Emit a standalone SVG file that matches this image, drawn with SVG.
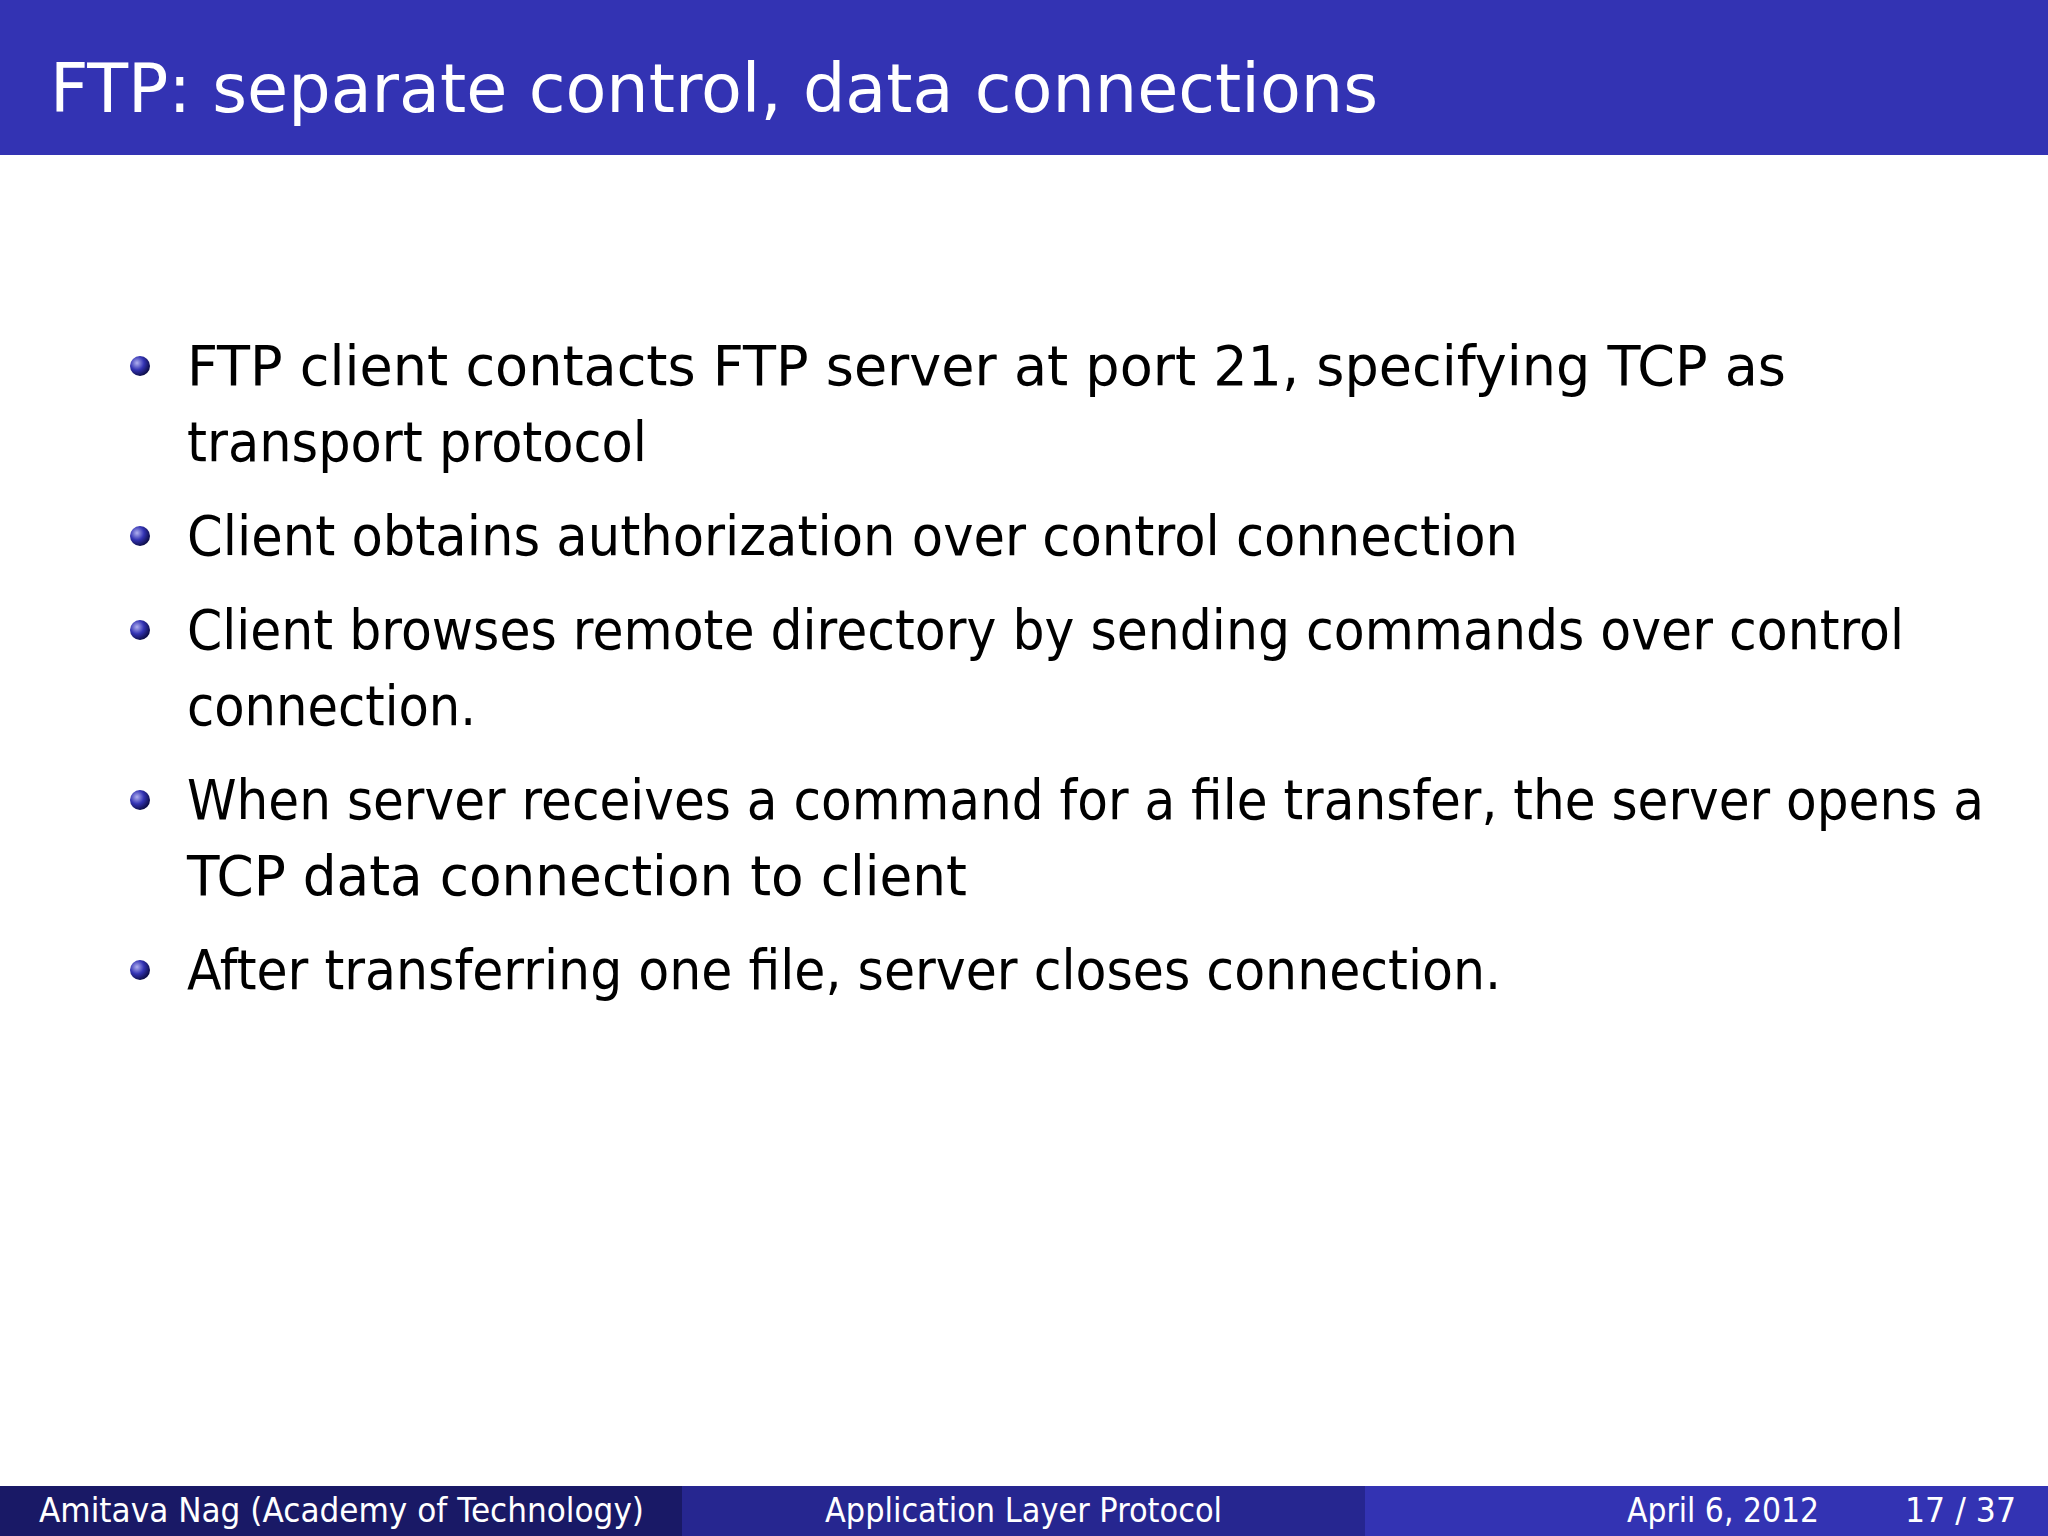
<svg xmlns="http://www.w3.org/2000/svg" width="2048" height="1536" viewBox="0 0 2048 1536">
<defs>
<radialGradient id="ball" cx="0.35" cy="0.35" r="0.7">
<stop offset="0" stop-color="#b0b0f0"/><stop offset="0.5" stop-color="#3333b3"/><stop offset="1" stop-color="#0a0a40"/>
</radialGradient>
</defs>
<style>
.t{font-family:"DejaVu Sans","Liberation Sans",sans-serif;fill:#000;font-size:56px}
.f{font-family:"DejaVu Sans","Liberation Sans",sans-serif;fill:#fff;font-size:33px}
</style>
<rect width="2048" height="1536" fill="#fff"/>
<g id="title"><rect width="2048" height="155" fill="#3333b3"/>
<text x="50" y="112" font-family="DejaVu Sans,Liberation Sans,sans-serif" font-size="68" fill="#fff" textLength="1328" lengthAdjust="spacingAndGlyphs">FTP: separate control, data connections</text></g>
<g id="bullets">
<circle cx="140" cy="366" r="10" fill="url(#ball)"/>
<circle cx="140" cy="536" r="10" fill="url(#ball)"/>
<circle cx="140" cy="630" r="10" fill="url(#ball)"/>
<circle cx="140" cy="800" r="10" fill="url(#ball)"/>
<circle cx="140" cy="970" r="10" fill="url(#ball)"/>
<text class="t" x="187" y="385" textLength="1599" lengthAdjust="spacingAndGlyphs">FTP client contacts FTP server at port 21, specifying TCP as</text>
<text class="t" x="187" y="461" textLength="460" lengthAdjust="spacingAndGlyphs">transport protocol</text>
<text class="t" x="187" y="555" textLength="1331" lengthAdjust="spacingAndGlyphs">Client obtains authorization over control connection</text>
<text class="t" x="187" y="649" textLength="1717" lengthAdjust="spacingAndGlyphs">Client browses remote directory by sending commands over control</text>
<text class="t" x="187" y="725" textLength="289" lengthAdjust="spacingAndGlyphs">connection.</text>
<text class="t" x="187" y="819" textLength="1797" lengthAdjust="spacingAndGlyphs">When server receives a command for a file transfer, the server opens a</text>
<text class="t" x="187" y="895" textLength="780" lengthAdjust="spacingAndGlyphs">TCP data connection to client</text>
<text class="t" x="187" y="989" textLength="1314" lengthAdjust="spacingAndGlyphs">After transferring one file, server closes connection.</text>
</g>
<g id="footer">
<rect x="0" y="1486" width="682" height="50" fill="#191966"/>
<rect x="682" y="1486" width="683" height="50" fill="#262690"/>
<rect x="1365" y="1486" width="683" height="50" fill="#3333b3"/>
<text class="f" x="39" y="1522" textLength="605" lengthAdjust="spacingAndGlyphs">Amitava Nag  (Academy of Technology)</text>
<text class="f" x="825" y="1522" textLength="397" lengthAdjust="spacingAndGlyphs">Application Layer Protocol</text>
<text class="f" x="1627" y="1522" textLength="192" lengthAdjust="spacingAndGlyphs">April 6, 2012</text>
<text class="f" x="1905" y="1522" textLength="111" lengthAdjust="spacingAndGlyphs">17 / 37</text>
</g>
</svg>
